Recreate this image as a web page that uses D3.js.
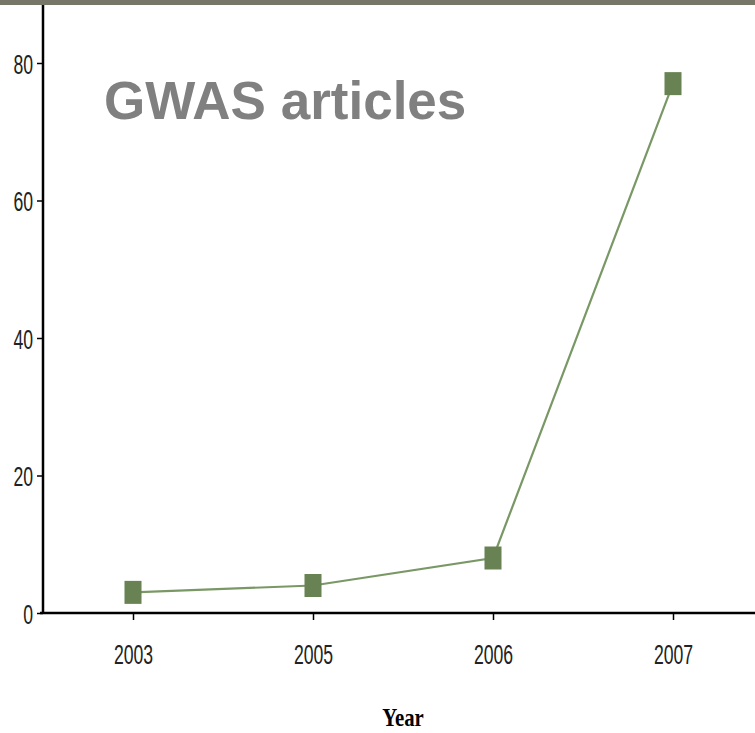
<!DOCTYPE html>
<html>
<head>
<meta charset="utf-8">
<script src="https://cdn.jsdelivr.net/npm/d3@7"></script>
<style>
  html, body { margin: 0; padding: 0; background: #fff; }
  svg { display: block; }
</style>
</head>
<body>
<script>
// ---- data ----
const years = ["2003", "2005", "2006", "2007"];
const articles = [3, 4, 8, 77];
const yTicks = [0, 20, 40, 60, 80];
const titleText = "GWAS articles";
const xTitle = "Year";

const W = 755, H = 733;
const svg = d3.select("body").append("svg").attr("width", W).attr("height", H);

// top band
svg.append("rect").attr("x", 0).attr("y", 0).attr("width", W).attr("height", 5).attr("fill", "#777767");

const x = d3.scalePoint().domain(years).range([43, 763]).padding(0.5);
const y = d3.scaleLinear().domain([0, 80]).range([613, 63]);

const sx = 0.63;
const tickFont = "'Liberation Sans', Arial, sans-serif";

// y axis
const gy = svg.append("g").attr("transform", "translate(43,0)")
  .call(d3.axisLeft(y).tickValues(yTicks).tickSize(6).tickPadding(0).tickFormat(d3.format("d")));
gy.select(".domain").remove();
gy.selectAll(".tick line").attr("stroke", "#000").attr("stroke-width", 1.5);
gy.selectAll(".tick text")
  .attr("font-family", tickFont).attr("font-size", 28).attr("fill", "#222")
  .attr("x", -10 / sx).attr("dy", "0.36em")
  .attr("transform", `scale(${sx},1)`);

// x axis
const gx = svg.append("g").attr("transform", "translate(0,613)")
  .call(d3.axisBottom(x).tickSize(7).tickPadding(0));
gx.select(".domain").remove();
gx.selectAll(".tick line").attr("stroke", "#000").attr("stroke-width", 1.5);
gx.selectAll(".tick text")
  .attr("font-family", tickFont).attr("font-size", 28).attr("fill", "#222")
  .attr("y", 51).attr("dy", 0)
  .attr("transform", `scale(${sx},1)`);

// axis lines
svg.append("line").attr("x1", 43).attr("x2", 43).attr("y1", 5).attr("y2", 614)
  .attr("stroke", "#000").attr("stroke-width", 2.5);
svg.append("line").attr("x1", 40).attr("x2", W).attr("y1", 613).attr("y2", 613)
  .attr("stroke", "#000").attr("stroke-width", 2.5);

// series line
const pts = years.map((yr, i) => [x(yr), y(articles[i])]);
svg.append("path").attr("d", d3.line()(pts))
  .attr("fill", "none").attr("stroke", "#7a9866").attr("stroke-width", 2.2);

// markers
svg.selectAll("rect.mk").data(pts).join("rect").attr("class", "mk")
  .attr("x", d => d[0] - 8.5).attr("y", d => d[1] - 11.5)
  .attr("width", 17).attr("height", 23)
  .attr("fill", "#698253");

// x title
svg.append("text").attr("transform", `translate(403,726) scale(0.8,1)`)
  .attr("text-anchor", "middle")
  .attr("font-family", "'Liberation Serif', 'Times New Roman', serif")
  .attr("font-weight", "bold").attr("font-size", 26).attr("fill", "#000")
  .text(xTitle);

// title overlay
svg.append("text").attr("x", 104).attr("y", 119)
  .attr("font-family", "'Liberation Sans', Arial, sans-serif")
  .attr("font-weight", "bold").attr("font-size", 53).attr("fill", "#808080")
  .text(titleText);
</script>
</body>
</html>
